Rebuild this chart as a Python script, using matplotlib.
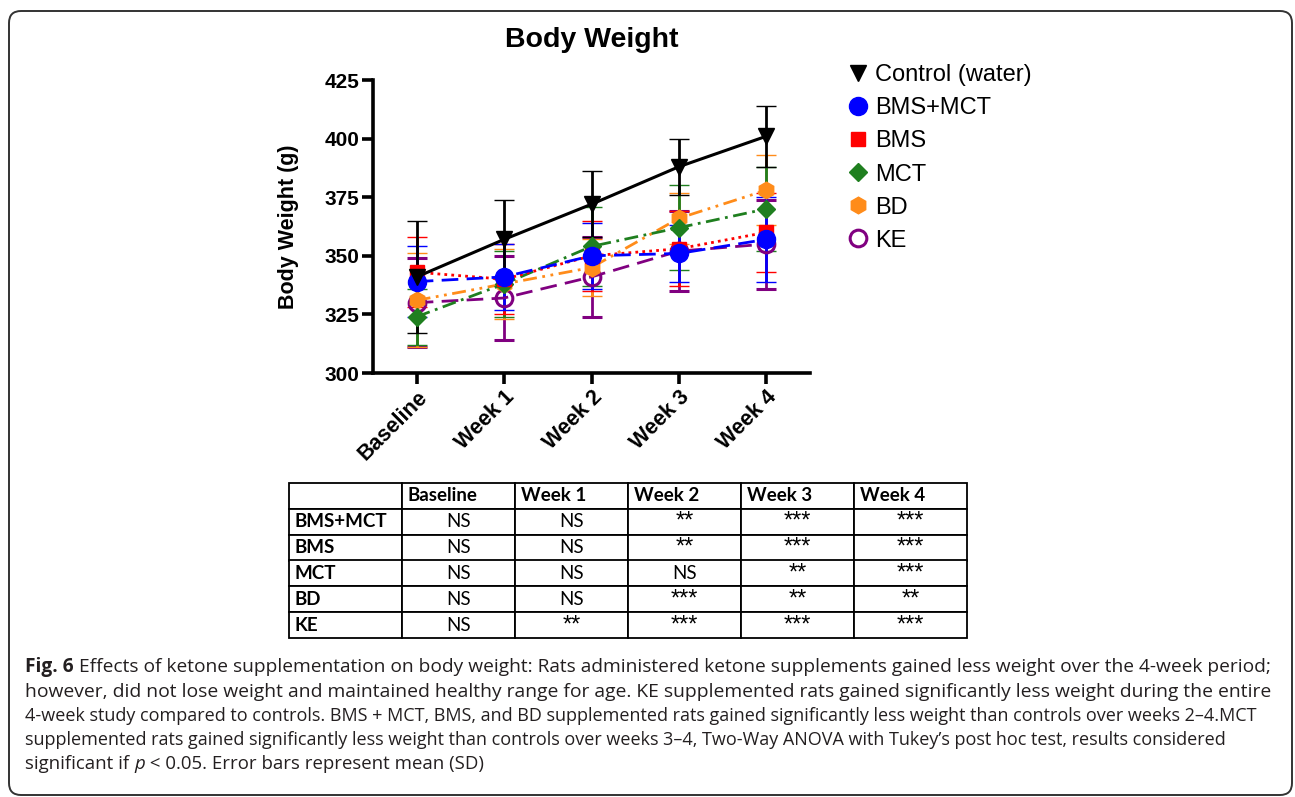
import matplotlib
matplotlib.use("Agg")
import matplotlib.pyplot as plt
from matplotlib.lines import Line2D
from matplotlib.patches import FancyBboxPatch
from matplotlib.transforms import IdentityTransform

# ---- data ----
timepoints = ["Baseline", "Week 1", "Week 2", "Week 3", "Week 4"]
groups = ["Control (water)", "BMS+MCT", "BMS", "MCT", "BD", "KE"]

control_mean = [341, 357, 372, 388, 401]
control_sd = [24, 17, 14, 12, 13]
bms_mct_mean = [339, 341, 350, 351, 357]
bms_mct_sd = [15, 14, 14, 12, 18]
bms_mean = [343, 340, 350, 353, 360]
bms_sd = [15, 15, 15, 16, 17]
mct_mean = [324, 338, 354, 362, 370]
mct_sd = [12, 14, 17, 18, 18]
bd_mean = [331, 338, 345, 366, 378]
bd_sd = [20, 15, 12, 11, 15]
ke_mean = [330, 332, 341, 352, 355]
ke_sd = [19, 18, 17, 17, 19]

table_rows = ["BMS+MCT", "BMS", "MCT", "BD", "KE"]
table_vals = [
    ["NS", "NS", "**", "***", "***"],
    ["NS", "NS", "**", "***", "***"],
    ["NS", "NS", "NS", "**", "***"],
    ["NS", "NS", "***", "**", "**"],
    ["NS", "**", "***", "***", "***"],
]

caption_lines = [
    [("Fig. 6", "bold", "normal"),
     (" Effects of ketone supplementation on body weight: Rats administered ketone supplements gained less weight over the 4-week period;", "normal", "normal")],
    [("however, did not lose weight and maintained healthy range for age. KE supplemented rats gained significantly less weight during the entire", "normal", "normal")],
    [("4-week study compared to controls. BMS + MCT, BMS, and BD supplemented rats gained significantly less weight than controls over weeks 2\u20134.MCT", "normal", "normal")],
    [("supplemented rats gained significantly less weight than controls over weeks 3\u20134, Two-Way ANOVA with Tukey\u2019s post hoc test, results considered", "normal", "normal")],
    [("significant if ", "normal", "normal"), ("p", "normal", "italic"),
     (" < 0.05. Error bars represent mean (SD)", "normal", "normal")],
]
caption_ends = [1262, 1262, 1257, 1225, None]

W, H = 1295, 797
plt.rcParams["font.family"] = ["Liberation Sans", "DejaVu Sans"]
fig = plt.figure(figsize=(W / 100, H / 100), dpi=100)


def fx(x):
    return x / W


def fy(y):
    return 1 - y / H


# ---- main plot ----
ax = fig.add_axes([fx(373), fy(373), fx(810 - 373), (373 - 80) / H])
x = list(range(len(timepoints)))

styles = [
    # (mean, sd, colour, marker, msize, face, dashes, lw)
    (ke_mean, ke_sd, "#800080", "o", 12, "none", (6, 3), 2.0),
    (bd_mean, bd_sd, "#ff8c1a", "h", 12, None, (5, 2, 1, 2, 1, 2), 2.0),
    (mct_mean, mct_sd, "#1f7f1f", "D", 9, None, (5, 2, 1, 2), 2.0),
    (bms_mean, bms_sd, "#ff0000", "s", 10, None, (1, 1.5), 2.0),
    (bms_mct_mean, bms_mct_sd, "#0000ff", "o", 13, None, (6, 3), 2.0),
    (control_mean, control_sd, "#000000", "v", 12, None, None, 2.2),
]
for mean, sd, col, mk, ms, face, dashes, lw in styles:
    eb = ax.errorbar(x, mean, yerr=sd, color=col, marker=mk, markersize=ms,
                     markerfacecolor=col if face is None else face,
                     markeredgecolor=col, markeredgewidth=2.2 if face else 1,
                     linewidth=lw, elinewidth=2, capsize=7.5, capthick=2)
    if dashes is not None:
        eb.lines[0].set_dashes(dashes)

ax.set_xlim(-0.5, 4.5)
ax.set_ylim(300, 425)
ax.set_yticks([300, 325, 350, 375, 400, 425])
ax.set_xticks(x)
ax.set_xticklabels(timepoints, rotation=45, ha="right", rotation_mode="anchor",
                   fontsize=15.5, fontweight="bold")
for lab in ax.get_yticklabels():
    lab.set_fontsize(15)
    lab.set_fontweight("bold")
ax.set_ylabel("Body Weight (g)", fontsize=15.5, fontweight="bold", labelpad=18)
for side in ["top", "right"]:
    ax.spines[side].set_visible(False)
for side in ["left", "bottom"]:
    ax.spines[side].set_linewidth(2.6)
ax.tick_params(width=2.6, length=8, pad=2)
fig.text(fx(592), fy(40), "Body Weight", fontsize=20.5, fontweight="bold",
         ha="center", va="center")

# legend (markers only)
handles = []
for name, st in zip(groups, styles[::-1]):
    mean, sd, col, mk, ms, face, dashes, lw = st
    handles.append(Line2D([], [], linestyle="none", marker=mk, markersize=ms,
                          color=col, markerfacecolor=col if face is None else face,
                          markeredgewidth=2.2 if face else 1))
fig.legend(handles, groups, loc="upper left", bbox_to_anchor=(fx(824), fy(43)),
           frameon=False, fontsize=17, labelspacing=0.47, handletextpad=0.15,
           handlelength=1.1)

# ---- significance table ----
tax = fig.add_axes([fx(289), fy(638), fx(967 - 289), (638 - 483) / H])
tax.axis("off")
cells = [[""] + timepoints] + [[r] + v for r, v in zip(table_rows, table_vals)]
tbl = tax.table(cellText=cells, bbox=[0, 0, 1, 1], cellLoc="center")
tbl.auto_set_font_size(False)
for (r, c), cell in tbl.get_celld().items():
    cell.set_linewidth(1.3)
    cell.set_edgecolor("black")
    txt = cell.get_text()
    txt.set_fontsize(13.5)
    txt.set_fontfamily(["Lato", "DejaVu Sans"])
    if r == 0 or c == 0:
        txt.set_fontweight("bold")
        txt.set_horizontalalignment("left")
        cell.PAD = 0.05
    elif "*" in txt.get_text():
        txt.set_fontsize(17)
        txt.set_fontfamily(["Liberation Sans", "DejaVu Sans"])

# ---- border ----
fig.add_artist(FancyBboxPatch((9, H - 795), 1283, 784,
                              boxstyle="round,pad=0,rounding_size=12",
                              transform=IdentityTransform(), facecolor="none",
                              edgecolor="#333333", linewidth=1.4))

# ---- caption ----
renderer = fig.canvas.get_renderer()
cap_font = ["Open Sans", "DejaVu Sans"]
x0 = 25


def line_width(segs, size):
    total = 0
    for s, wt, stl in segs:
        t = fig.text(0, 0, s, fontsize=size, family=cap_font, fontweight=wt,
                     fontstyle=stl)
        total += t.get_window_extent(renderer).width
        t.remove()
    return total


sizes = []
for segs, end in zip(caption_lines, caption_ends):
    if end is None:
        sizes.append(sum(sizes) / len(sizes))
    else:
        sizes.append(12 * (end - x0) / line_width(segs, 12))

line_y = [667, 692, 716, 740, 764]
for segs, yy, size in zip(caption_lines, line_y, sizes):
    xx = x0
    for s, wt, stl in segs:
        t = fig.text(fx(xx), fy(yy), s, fontsize=size, family=cap_font,
                     fontweight=wt, fontstyle=stl, va="center", ha="left",
                     color="#231f20")
        xx += t.get_window_extent(renderer).width

fig.savefig("out.png", dpi=100)
